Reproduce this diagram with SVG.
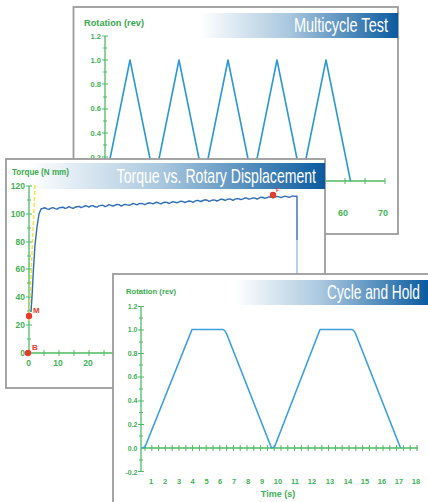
<svg xmlns="http://www.w3.org/2000/svg" width="428" height="502" viewBox="0 0 428 502">
<defs>
<linearGradient id="band" x1="0" y1="0" x2="1" y2="0">
<stop offset="0" stop-color="#ffffff"/>
<stop offset="0.45" stop-color="#a9c7de"/>
<stop offset="1" stop-color="#0a5ba0"/>
</linearGradient>
<style>
.frame{fill:#fff;stroke:#9c9c9c;stroke-width:1.8}
.hdr{font-family:"Liberation Sans",Arial,sans-serif;font-size:20px;fill:#fff;text-anchor:end}
.ttl{font-family:"Liberation Sans",Arial,sans-serif;font-weight:bold;fill:#3aa94f}
.lab{font-family:"Liberation Sans",Arial,sans-serif;font-weight:bold;fill:#3fb055}
.axis{stroke:#4fba62;stroke-width:1.3;fill:none}
.tick{stroke:#4fba62;stroke-width:1;fill:none}
.mk{fill:#e63b2a}
.mkl{font-family:"Liberation Sans",Arial,sans-serif;font-weight:bold;fill:#e63b2a}
</style>
</defs>

<g id="multicycle-panel">
<rect class="frame" x="73.5" y="7" width="324.5" height="227"/>
<rect x="200" y="13" width="198" height="25" fill="url(#band)"/>
<text class="hdr" transform="translate(388,31.5) scale(0.726,1)">Multicycle Test</text>
<text class="ttl" x="84" y="26" font-size="8.5" textLength="60" lengthAdjust="spacingAndGlyphs">Rotation (rev)</text>
<g class="lab" font-size="7.5" text-anchor="end">
<text x="101" y="38.5">1.2</text>
<text x="101" y="62.5">1.0</text>
<text x="101" y="87">0.8</text>
<text x="101" y="111">0.6</text>
<text x="101" y="135.5">0.4</text>
<text x="101" y="159.5">0.2</text>
</g>
<path class="axis" d="M105,36 V181 H385"/>
<path class="tick" d="M102,36H108M103,48H107M102,60H108M103,72H107M102,84H108M103,97H107M102,109H108M103,121H107M102,133H108M103,145H107M102,157H108M103,169H107M345,178V184M365,178V184M385,178V184M325,178V184"/>
<g class="lab" font-size="9" text-anchor="middle">
<text x="343" y="216">60</text>
<text x="383" y="216">70</text>
</g>
<polyline fill="none" stroke="#2b98d4" stroke-width="1.6" stroke-linejoin="round" points="105.5,181 130,60 154.5,181 179,60 203.5,181 228,60 252.5,181 277,60 301.5,181 326,60 350.5,181"/>
</g>

<g id="torque-panel">
<rect class="frame" x="6" y="159" width="319" height="229"/>
<rect x="28" y="163" width="297" height="26" fill="url(#band)"/>
<text class="hdr" transform="translate(316,183.3) scale(0.704,1)">Torque vs. Rotary Displacement</text>
<text class="ttl" x="12" y="175" font-size="8.5" textLength="57" lengthAdjust="spacingAndGlyphs">Torque (N mm)</text>
<g class="lab" font-size="8.5" text-anchor="end">
<text x="25" y="189">120</text>
<text x="25" y="217">100</text>
<text x="25" y="244.5">80</text>
<text x="25" y="272">60</text>
<text x="25" y="300">40</text>
<text x="25" y="328">20</text>
<text x="25" y="356">0</text>
</g>
<g class="lab" font-size="8.5" text-anchor="middle">
<text x="28.5" y="366">0</text>
<text x="58" y="366">10</text>
<text x="88" y="366">20</text>
</g>
<path class="axis" d="M29,186 V353 H300"/>
<path class="tick" d="M26,186H32M27,200H31M26,214H32M27,228H31M26,242H32M27,256H31M26,269H32M27,283H31M26,297H32M27,311H31M26,325H32M27,339H31M44,350V356M59,350V356M74,350V356M89,350V356M104,350V356"/>
<line x1="35" y1="185" x2="29" y2="322" stroke="#f1e23c" stroke-width="1.4" stroke-dasharray="4,2"/>
<polyline fill="none" stroke="#2e6db3" stroke-width="1.4" stroke-linejoin="round" points="31,312 32,297 33.5,268 35,245 37,227 39,214 41,209 43,208.3 45,207.8 47,208.9 49,209.4 51,208.1 53,207.7 55,208.6 57,209.1 59,207.9 61,207.5 63,207.2 65,208.4 67,207.9 69,206.7 71,207.6 73,208.4 75,207.3 77,206.8 79,206.4 81,207.7 83,206.9 85,205.8 87,206.1 89,207.1 91,205.9 93,205.6 95,206.8 97,207.1 99,205.9 101,205.4 103,205.2 105,206.6 107,205.9 109,204.7 111,205.3 113,206 115,205.1 117,204.5 119,204.6 121,206 123,205.2 125,204.3 127,204.9 129,205.3 131,204.6 133,203.4 135,204.1 137,204.8 139,203.6 141,203.4 143,203.9 145,204.7 147,203.5 149,202.8 151,203.1 153,203.9 155,202.8 157,202.3 159,203.2 161,203.8 163,202.7 165,202.3 167,202.4 169,203.6 171,202.5 173,201.7 175,202.1 177,202.8 179,201.9 181,201.1 183,201.7 185,202.5 187,201.6 189,201 191,201.4 193,202.3 195,201.1 197,200.4 199,200.8 201,201.5 203,200.5 205,199.8 207,200.2 209,201.3 211,200.6 213,199.9 215,200.1 217,201 219,200.2 221,199.1 223,199.5 225,200.4 227,199.6 229,198.9 231,199.3 233,200.4 235,199.2 237,198.6 239,198.8 241,199.7 243,198.9 245,197.9 247,198.3 249,199.2 251,198.6 253,197.9 255,198.2 257,199.1 259,198.1 261,197.2 263,197.5 265,198.4 267,197.6 269,196.9 271,197.2 273,197.9 275,197.1 277,196.4 279,196.9 281,197.7 283,196.8 285,196.2 287,196.6 289,197.4 291,196.7 293,195.9 295,196.4 297,196.2 297,240"/>
<line x1="297" y1="240" x2="297" y2="274" stroke="#8dbbe2" stroke-width="1.3"/>
<circle class="mk" cx="29" cy="316" r="3.2"/>
<circle class="mk" cx="28" cy="353" r="3.2"/>
<circle class="mk" cx="273" cy="195" r="3.2"/>
<text class="mkl" x="33" y="313" font-size="8">M</text>
<text class="mkl" x="32" y="350" font-size="8">B</text>
<text class="mkl" x="276" y="192" font-size="5.5">F</text>
</g>

<g id="cycle-hold-panel">
<rect class="frame" x="113" y="274" width="320" height="235"/>
<rect x="235" y="280" width="193" height="25" fill="url(#band)"/>
<text class="hdr" transform="translate(420,299) scale(0.686,1)">Cycle and Hold</text>
<text class="ttl" x="126" y="294" font-size="7.5" textLength="50" lengthAdjust="spacingAndGlyphs">Rotation (rev)</text>
<g class="lab" font-size="7" text-anchor="end">
<text x="137.5" y="308.5">1.2</text>
<text x="137.5" y="331.5">1.0</text>
<text x="137.5" y="355.5">0.8</text>
<text x="137.5" y="378.5">0.6</text>
<text x="137.5" y="402.5">0.4</text>
<text x="137.5" y="426.5">0.2</text>
<text x="137.5" y="450.5">0.0</text>
<text x="137.5" y="474.5">-0.2</text>
</g>
<path class="axis" d="M141,306 V472 M141,448 H418"/>
<path class="tick" d="M138,306.5H144M139,318H143M138,330H144M139,342H143M138,353.5H144M139,365H143M138,377H144M139,389H143M138,401H144M139,412.5H143M138,424.5H144M139,436H143M139,460H143M138,471.5H144"/>
<path class="tick" d="M145,445V451M151.8,445V451M158.6,445V451M165.4,445V451M172.2,445V451M179,445V451M185.8,445V451M192.6,445V451M199.4,445V451M206.2,445V451M213,445V451M219.8,445V451M226.6,445V451M233.4,445V451M240.2,445V451M247,445V451M253.8,445V451M260.6,445V451M267.4,445V451M274.2,445V451M281,445V451M287.8,445V451M294.6,445V451M301.4,445V451M308.2,445V451M315,445V451M321.8,445V451M328.6,445V451M335.4,445V451M342.2,445V451M349,445V451M355.8,445V451M362.6,445V451M369.4,445V451M376.2,445V451M383,445V451M389.8,445V451M396.6,445V451M403.4,445V451M410.2,445V451M417,445V451"/>
<g class="lab" font-size="7.5" text-anchor="middle">
<text x="151" y="484">1</text>
<text x="165" y="484">2</text>
<text x="179" y="484">3</text>
<text x="192.5" y="484">4</text>
<text x="206.5" y="484">5</text>
<text x="220" y="484">6</text>
<text x="234" y="484">7</text>
<text x="248" y="484">8</text>
<text x="262" y="484">9</text>
<text x="278" y="484">10</text>
<text x="295" y="484">11</text>
<text x="312" y="484">12</text>
<text x="330" y="484">13</text>
<text x="348" y="484">14</text>
<text x="365" y="484">15</text>
<text x="382" y="484">16</text>
<text x="399" y="484">17</text>
<text x="416" y="484">18</text>
</g>
<text class="lab" x="278" y="497" font-size="9" text-anchor="middle">Time (s)</text>
<path fill="none" stroke="#3aa0e0" stroke-width="1.6" stroke-linejoin="round" d="M142,448 L145,447 L192,329.5 L223,329.5 Q225,330 226.5,333.5 L271.5,448 L274.5,447 L320,329.5 L352,329.5 Q354,330 355.5,333.5 L400.5,448"/>
</g>
</svg>
